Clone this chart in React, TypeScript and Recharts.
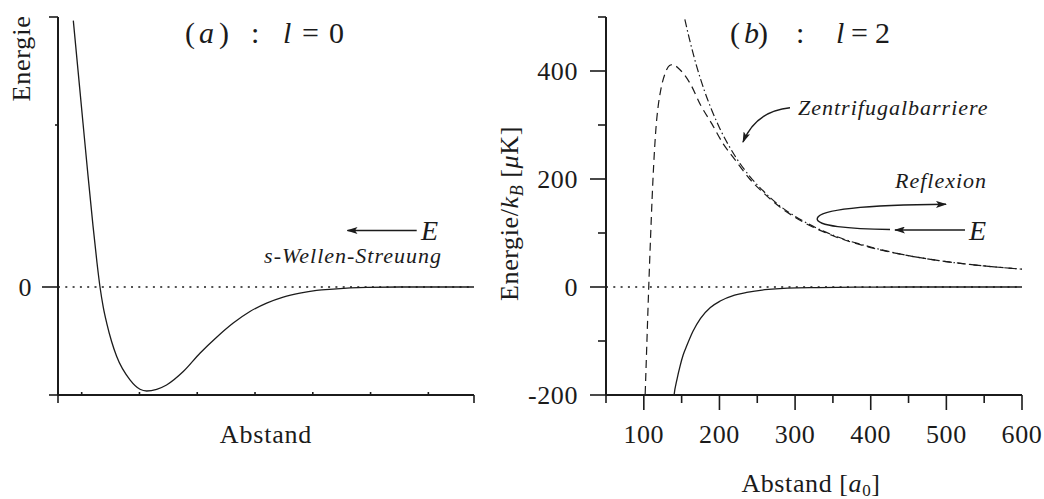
import React from "react";
import { LineChart, Line, XAxis, YAxis, ReferenceLine } from "recharts";

const FONT = "'Liberation Serif', 'Times New Roman', Times, serif";
const INK = "#1b1b1b";

// (a) l = 0 : generic molecular potential, arbitrary units
const wellX = [0.265, 0.346, 0.433, 0.519, 0.606, 0.675, 0.727, 0.784, 0.843, 0.929, 1.016, 1.246, 1.419, 1.535, 1.708, 1.879, 2.168, 2.457, 2.746, 3.033, 3.322, 3.611, 3.898, 4.187, 4.476, 4.763, 5.341, 5.917, 7.2];
const wellE = [2.466, 2.008, 1.516, 1.033, 0.566, 0.225, 0, -0.188, -0.334, -0.507, -0.644, -0.86, -0.947, -0.963, -0.947, -0.907, -0.783, -0.613, -0.465, -0.334, -0.227, -0.149, -0.093, -0.056, -0.031, -0.019, -0.004, 0, 0];
const wellXTicks = [0, 0.41, 1.41, 2.41, 3.41, 4.41, 5.41, 6.41, 7.2];
const wellYTicks = [-1, 0, 1.5, 2.5];

// (b) l = 2 : distance in a0, energy / k_B in µK
const vdwR = [138, 140, 144, 148, 152, 157, 165, 175, 188, 201, 220, 236, 260, 290, 330, 380, 450, 600];
const vdwE = [-228, -200, -170, -146, -126, -108, -82, -58, -38, -26, -15, -10, -5, -2, -1, -0.3, 0, 0];

const effR = [100, 102, 104, 106.5, 109, 111, 113, 116, 119, 122, 128, 134, 139, 145, 152, 162, 175, 190, 205, 220, 240, 260, 280, 300, 350, 400, 450, 500, 550, 600];
const effE = [-270, -190, -105, 0, 95, 165, 225, 293, 335, 362, 395, 410, 412, 406, 396, 375, 337, 302, 265, 237, 200, 172, 148, 129, 95, 73, 58, 47, 39, 33];

const barR = [150, 155, 160, 170, 180, 190, 200, 220, 240, 260, 280, 300, 350, 400, 450, 500, 550, 600];
const barE = [524, 491, 461, 408, 364, 327, 295, 244, 205, 175, 150, 131, 96, 74, 58, 47, 39, 33];

const abstandTicks = [50, 100, 150, 200, 250, 300, 350, 400, 450, 500, 550, 600];
const abstandLabels = [100, 200, 300, 400, 500, 600];
const energyTicks = [-200, -100, 0, 100, 200, 300, 400, 500];
const energyLabels = [-200, 0, 200, 400];

const toPoints = (xs: number[], ys: number[]) => xs.map((x, i) => ({ x, e: ys[i] }));

const wellData = toPoints(wellX, wellE);
const vdwData = toPoints(vdwR, vdwE);
const effData = toPoints(effR, effE);
const barData = toPoints(barR, barE);

const tickText = { fontFamily: FONT, fontSize: 26, fill: INK, letterSpacing: 0.6 };
const axisLine = { stroke: INK, strokeWidth: 2 };

// ticks drawn by hand: tickSize=0 so x/y is the axis line itself
function wellXTick({ x, y, payload }: any) {
  const v = payload.value;
  const end = v === wellXTicks[0] || v === wellXTicks[wellXTicks.length - 1];
  return <line x1={x} x2={x} y1={y} y2={end ? y + 8 : y - 3} stroke={INK} strokeWidth={1.6} />;
}

function wellYTick({ x, y, payload }: any) {
  const v = payload.value;
  const len = v === 0 ? 16 : v === 1.5 ? 3 : 9;
  return (
    <g>
      <line x1={x} x2={x - len} y1={y} y2={y} stroke={INK} strokeWidth={1.6} />
      {v === 0 && <text x={x - 26} y={y + 9} textAnchor="end" {...tickText}>0</text>}
    </g>
  );
}

function abstandTick({ x, y, payload }: any) {
  const v = payload.value;
  const major = abstandLabels.includes(v);
  return (
    <g>
      <line x1={x} x2={x} y1={y} y2={y + (major ? 15 : 8)} stroke={INK} strokeWidth={1.6} />
      {major && <text x={x} y={y + 48} textAnchor="middle" {...tickText}>{v}</text>}
    </g>
  );
}

function energyTick({ x, y, payload }: any) {
  const v = payload.value;
  const major = energyLabels.includes(v);
  return (
    <g>
      <line x1={x} x2={x - (major ? 16 : 8)} y1={y} y2={y} stroke={INK} strokeWidth={1.6} />
      {major && <text x={x - 28} y={y + 9} textAnchor="end" {...tickText}>{v}</text>}
    </g>
  );
}

function Annotations() {
  const t = { fontFamily: FONT, fill: INK };
  const it = { ...t, fontStyle: "italic" as const, fontSize: 22, letterSpacing: 1 };
  return (
    <svg width={1044} height={499} style={{ position: "absolute", left: 0, top: 0, pointerEvents: "none" }}>
      <defs>
        <marker id="ah" viewBox="0 0 11 7" refX="10" refY="3.5" markerWidth="11" markerHeight="7" orient="auto" markerUnits="userSpaceOnUse">
          <path d="M0,0 L11,3.5 L0,7 L2.5,3.5 Z" fill={INK} />
        </marker>
      </defs>

      {/* panel titles */}
      <text y={43} fontSize={30} {...t}>
        <tspan x={185}>(</tspan>
        <tspan x={199} fontStyle="italic">a</tspan>
        <tspan x={219}>)</tspan>
        <tspan x={251}>:</tspan>
        <tspan x={283} fontStyle="italic">l</tspan>
        <tspan x={302}>=</tspan>
        <tspan x={329}>0</tspan>
      </text>
      <text y={43} fontSize={30} {...t}>
        <tspan x={730}>(</tspan>
        <tspan x={744} fontStyle="italic">b</tspan>
        <tspan x={758}>)</tspan>
        <tspan x={796}>:</tspan>
        <tspan x={836} fontStyle="italic">l</tspan>
        <tspan x={851}>=</tspan>
        <tspan x={875}>2</tspan>
      </text>

      {/* axis titles */}
      <text transform="translate(29.5,58.5) rotate(-90)" textAnchor="middle" fontSize={26} letterSpacing={0.8} {...t}>Energie</text>
      <text x={266} y={443} textAnchor="middle" fontSize={26} letterSpacing={0.8} {...t}>Abstand</text>
      <text transform="translate(518,213.5) rotate(-90)" textAnchor="middle" fontSize={26} letterSpacing={0.6} {...t}>
        Energie/<tspan fontStyle="italic">k</tspan>
        <tspan fontStyle="italic" fontSize={18} dy={5}>B</tspan>
        <tspan dy={-5}> [</tspan><tspan fontStyle="italic">μ</tspan>K]
      </text>
      <text x={811} y={492} textAnchor="middle" fontSize={26} letterSpacing={0.6} {...t}>
        Abstand [<tspan fontStyle="italic">a</tspan><tspan fontSize={17} dy={4}>0</tspan><tspan dy={-4}>]</tspan>
      </text>

      {/* (a) annotations */}
      <line x1={416.7} y1={230.5} x2={347.5} y2={230.5} stroke={INK} strokeWidth={1.4} markerEnd="url(#ah)" />
      <text x={421} y={240} fontSize={28} fontStyle="italic" {...t}>E</text>
      <text x={442} y={263} textAnchor="end" {...it}>s-Wellen-Streuung</text>

      {/* (b) annotations */}
      <text x={798} y={115} {...it}>Zentrifugalbarriere</text>
      <path d="M790,107.7 Q756,111 743,142" fill="none" stroke={INK} strokeWidth={1.4} markerEnd="url(#ah)" />
      <text x={895} y={188} {...it}>Reflexion</text>
      <path d="M890,229.5 C850,229 815,226 817.3,218.3 C820,210 860,205 946,204.3" fill="none" stroke={INK} strokeWidth={1.4} markerEnd="url(#ah)" />
      <line x1={965} y1={230} x2={895} y2={230} stroke={INK} strokeWidth={1.4} markerEnd="url(#ah)" />
      <text x={969} y={240} fontSize={28} fontStyle="italic" {...t}>E</text>
    </svg>
  );
}

export default function App() {
  return (
    <div style={{ position: "absolute", left: 0, top: 0, width: 1044, height: 499, background: "#fff" }}>
      {/* (a) l = 0 */}
      <div style={{ position: "absolute", left: 0, top: 0 }}>
        <LineChart width={500} height={499} data={wellData} margin={{ top: 17, right: 26, bottom: 64, left: 0 }}>
          <XAxis dataKey="x" type="number" domain={[0, 7.2]} ticks={wellXTicks} interval={0} allowDataOverflow
            height={40} tickSize={0} tickMargin={0} tickLine={false} axisLine={axisLine} tick={wellXTick} />
          <YAxis type="number" domain={[-1, 2.5]} ticks={wellYTicks} interval={0} allowDataOverflow
            width={58} tickSize={0} tickMargin={0} tickLine={false} axisLine={axisLine} tick={wellYTick} />
          <ReferenceLine y={0} stroke={INK} strokeWidth={1.3} strokeDasharray="2 5.3" />
          <Line type="monotone" dataKey="e" stroke={INK} strokeWidth={1.3} dot={false} isAnimationActive={false} />
        </LineChart>
      </div>

      {/* (b) l = 2 */}
      <div style={{ position: "absolute", left: 520, top: 0 }}>
        <LineChart width={524} height={499} margin={{ top: 17, right: 22, bottom: 64, left: 0 }}>
          <XAxis dataKey="x" type="number" domain={[50, 600]} ticks={abstandTicks} interval={0} allowDataOverflow
            height={40} tickSize={0} tickMargin={0} tickLine={false} axisLine={axisLine} tick={abstandTick} />
          <YAxis type="number" domain={[-200, 500]} ticks={energyTicks} interval={0} allowDataOverflow
            width={86} tickSize={0} tickMargin={0} tickLine={false} axisLine={axisLine} tick={energyTick} />
          <ReferenceLine y={0} stroke={INK} strokeWidth={1.3} strokeDasharray="2 5.3" />
          <Line data={barData} type="monotone" dataKey="e" stroke={INK} strokeWidth={1.2} strokeDasharray="8 3 1.5 3" dot={false} isAnimationActive={false} />
          <Line data={effData} type="monotone" dataKey="e" stroke={INK} strokeWidth={1.2} strokeDasharray="8 5" dot={false} isAnimationActive={false} />
          <Line data={vdwData} type="monotone" dataKey="e" stroke={INK} strokeWidth={1.3} dot={false} isAnimationActive={false} />
        </LineChart>
      </div>

      <Annotations />
    </div>
  );
}
